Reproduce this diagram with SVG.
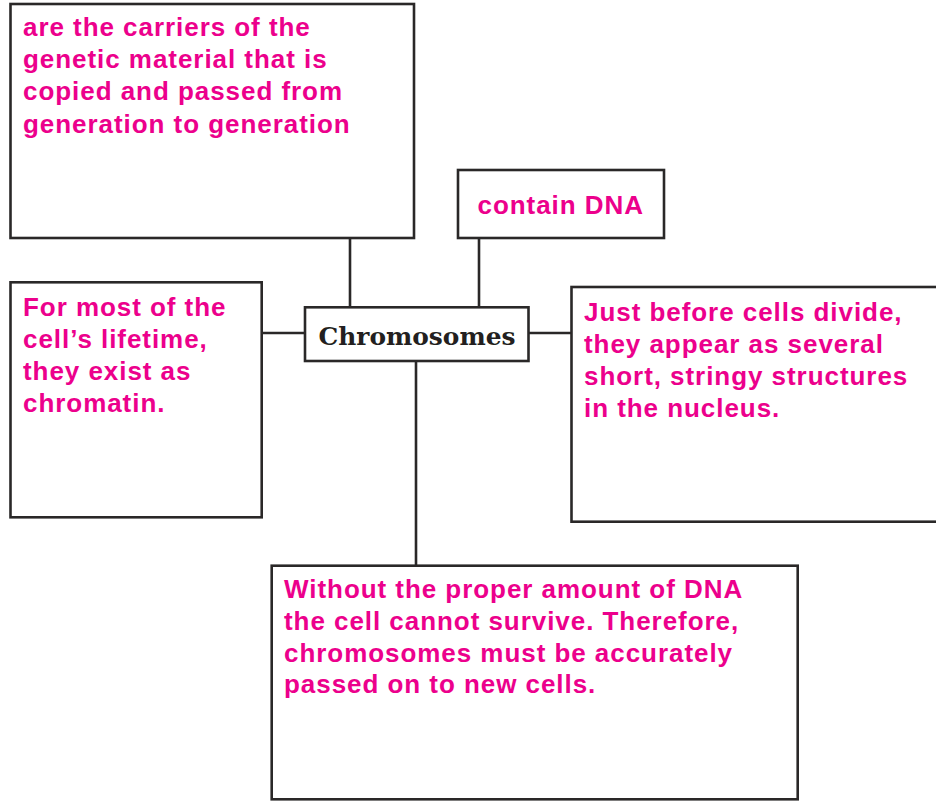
<svg xmlns="http://www.w3.org/2000/svg" width="936" height="801" viewBox="0 0 936 801">
  <style>
    .box { fill: #ffffff; stroke: #2a2828; stroke-width: 2.6; }
    .conn { stroke: #2a2828; stroke-width: 2.6; fill: none; }
    .txt { font-family: "Liberation Sans", Arial, sans-serif; font-weight: bold; font-size: 26px; fill: #EC008C; letter-spacing: 0.95px; }
    .title { font-family: "DejaVu Serif", "Liberation Serif", serif; font-weight: bold; font-size: 25px; fill: #231f20; }
  </style>
  <rect width="936" height="801" fill="#ffffff"/>
  <g id="connectors">
    <line class="conn" x1="350" y1="238" x2="350" y2="307"/>
    <line class="conn" x1="479" y1="238" x2="479" y2="307"/>
    <line class="conn" x1="262" y1="333" x2="305" y2="333"/>
    <line class="conn" x1="529" y1="333" x2="571" y2="333"/>
    <line class="conn" x1="416" y1="361" x2="416" y2="566"/>
  </g>
  <g id="node-carriers">
    <rect class="box" x="10.5" y="4" width="403.5" height="234"/>
    <text class="txt" x="23" y="36">are the carriers of the</text>
    <text class="txt" x="23" y="68.2">genetic material that is</text>
    <text class="txt" x="23" y="100.4">copied and passed from</text>
    <text class="txt" x="23" y="132.6">generation to generation</text>
  </g>
  <g id="node-dna">
    <rect class="box" x="458" y="170" width="206" height="68"/>
    <text class="txt" x="477.5" y="214.3">contain DNA</text>
  </g>
  <g id="node-chromosomes">
    <rect class="box" x="305" y="307.3" width="223.5" height="53.7"/>
    <text class="title" x="318.5" y="345" textLength="197" lengthAdjust="spacingAndGlyphs">Chromosomes</text>
  </g>
  <g id="node-chromatin">
    <rect class="box" x="10.5" y="282.3" width="251.2" height="235"/>
    <text class="txt" x="23" y="315.7">For most of the</text>
    <text class="txt" x="23" y="348">cell’s lifetime,</text>
    <text class="txt" x="23" y="380">they exist as</text>
    <text class="txt" x="23" y="411.8">chromatin.</text>
  </g>
  <g id="node-divide">
    <rect class="box" x="571.5" y="287" width="370" height="234.7"/>
    <text class="txt" x="584" y="320.7">Just before cells divide,</text>
    <text class="txt" x="584" y="352.7">they appear as several</text>
    <text class="txt" x="584" y="384.7">short, stringy structures</text>
    <text class="txt" x="584" y="416.7">in the nucleus.</text>
  </g>
  <g id="node-survive">
    <rect class="box" x="271.7" y="565.7" width="526" height="233.6"/>
    <text class="txt" x="284" y="597.7">Without the proper amount of DNA</text>
    <text class="txt" x="284" y="630">the cell cannot survive. Therefore,</text>
    <text class="txt" x="284" y="661.7">chromosomes must be accurately</text>
    <text class="txt" x="284" y="693.4">passed on to new cells.</text>
  </g>
</svg>
